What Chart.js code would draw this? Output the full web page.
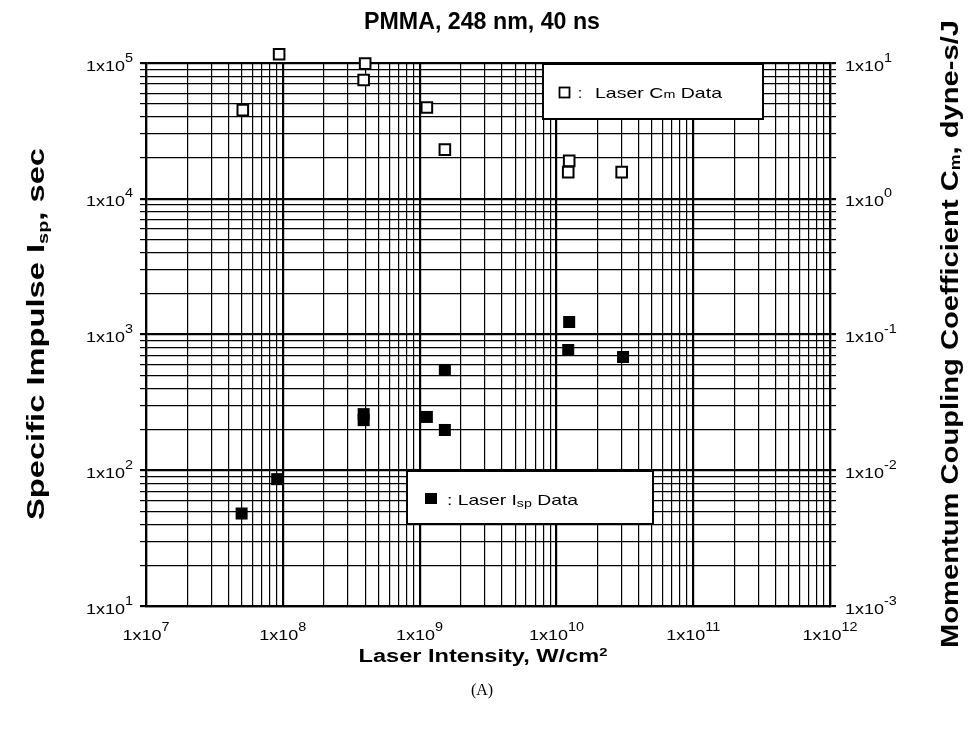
<!DOCTYPE html>
<html>
<head>
<meta charset="utf-8">
<title>PMMA, 248 nm, 40 ns</title>
<script src="https://cdn.jsdelivr.net/npm/chart.js@4.4.0/dist/chart.umd.min.js"></script>
<style>
  html, body { margin: 0; padding: 0; background: #fff; }
  #wrap { width: 972px; height: 734px; }
</style>
</head>
<body>
<div id="wrap"><canvas id="pmmaChart" width="972" height="734"></canvas></div>
<script>
// values (intensity in W/cm2)
const cmIntensity = [5.1e7, 9.4e7, 4.0e8, 3.9e8, 1.13e9, 1.53e9, 1.24e10, 1.22e10, 3.0e10];
const cmValues    = [4.5, 11.6, 9.9, 7.5, 4.7, 2.3, 1.9, 1.57, 1.57];

const ispIntensity = [5.0e7, 9.1e7, 3.9e8, 3.9e8, 1.13e9, 1.53e9, 1.53e9, 1.24e10, 1.22e10, 3.07e10];
const ispValues    = [48, 86, 259, 234, 247, 198, 548, 1236, 769, 683];

// decade ticks and their exponent labels
const xTicks = [1e7, 1e8, 1e9, 1e10, 1e11, 1e12];
const xTickExp = ['7', '8', '9', '10', '11', '12'];
const ispTicks = [1e1, 1e2, 1e3, 1e4, 1e5];
const ispTickExp = ['1', '2', '3', '4', '5'];
const cmTicks = [1e-3, 1e-2, 1e-1, 1e0, 1e1];
const cmTickExp = ['-3', '-2', '-1', '0', '1'];

const FONT = '"Liberation Sans", Arial, Helvetica, sans-serif';

// graph-paper grid: 1..9 in every decade
function decadeGrid(lo, hi) {
    const out = [];
    for (let e = lo; e < hi; e++) {
        for (let m = 1; m < 10; m++) out.push({ value: m * Math.pow(10, e) });
    }
    out.push({ value: Math.pow(10, hi) });
    return out;
}
function isDecade(v) {
    const l = Math.log10(v);
    return Math.abs(l - Math.round(l)) < 1e-6;
}
const gridWidth = (c) => (c.tick && isDecade(c.tick.value)) ? 2.2 : 1.2;

// text made of runs (for sub/superscripts), optionally stretched to a width
function richText(ctx, parts, x, y, opt) {
    ctx.save();
    let total = 0;
    const widths = parts.map(p => {
        ctx.font = (p.bold ? 'bold ' : '') + p.size + 'px ' + (p.family || FONT);
        const w = ctx.measureText(p.t).width;
        total += w;
        return w;
    });
    const sx = opt.width ? opt.width / total : (opt.sx || 1);
    ctx.translate(x, y);
    if (opt.rot) ctx.rotate(opt.rot);
    ctx.scale(sx, 1);
    let cx = opt.align === 'center' ? -total / 2 : (opt.align === 'right' ? -total : 0);
    ctx.textBaseline = 'alphabetic';
    ctx.textAlign = 'left';
    ctx.fillStyle = '#000';
    parts.forEach((p, i) => {
        ctx.font = (p.bold ? 'bold ' : '') + p.size + 'px ' + (p.family || FONT);
        ctx.fillText(p.t, cx, p.dy || 0);
        cx += widths[i];
    });
    ctx.restore();
}

function powLabel(exp) {
    return [{ t: '1x10', size: 15 }, { t: exp, size: 12, dy: -9 }];
}

const textPlugin = {
    id: 'paperText',
    afterDatasetsDraw(chart) {
        const ctx = chart.ctx;
        // legend boxes inside the plot
        ctx.save();
        ctx.fillStyle = '#fff';
        ctx.strokeStyle = '#000';
        ctx.lineWidth = 2;
        ctx.fillRect(543, 64, 220, 55);
        ctx.strokeRect(543, 64, 220, 55);
        ctx.fillRect(407, 471, 246, 53);
        ctx.strokeRect(407, 471, 246, 53);
        ctx.lineWidth = 1.8;
        ctx.strokeRect(559.5, 87.5, 10, 10);
        ctx.fillStyle = '#000';
        ctx.fillRect(425, 493, 12, 11);
        ctx.restore();
        richText(ctx, [{ t: ':', size: 15 }], 578, 98, {});
        richText(ctx, [{ t: 'Laser C', size: 15 }, { t: 'm', size: 11 }, { t: ' Data', size: 15 }],
            595, 98, { width: 127 });
        richText(ctx, [{ t: ': Laser I', size: 15 }, { t: 'sp', size: 11, dy: 2 }, { t: ' Data', size: 15 }],
            447, 505, { width: 131 });
    },
    afterDraw(chart) {
        const ctx = chart.ctx;
        const x = chart.scales.x, y = chart.scales.y, y2 = chart.scales.y2;

        richText(ctx, [{ t: 'PMMA, 248 nm, 40 ns', size: 24, bold: true }], 482, 29,
            { align: 'center', width: 236 });

        ispTicks.forEach((v, i) => {
            richText(ctx, powLabel(ispTickExp[i]), 133, y.getPixelForValue(v) + 7.5, { align: 'right', sx: 1.2 });
        });
        cmTicks.forEach((v, i) => {
            richText(ctx, powLabel(cmTickExp[i]), 845, y2.getPixelForValue(v) + 7.5, { sx: 1.2 });
        });
        xTicks.forEach((v, i) => {
            richText(ctx, powLabel(xTickExp[i]), x.getPixelForValue(v), 640, { align: 'center', sx: 1.2 });
        });

        richText(ctx, [{ t: 'Laser Intensity, W/cm', size: 17.5, bold: true }, { t: '2', size: 11, bold: true, dy: -6 }],
            483, 662, { align: 'center', width: 249 });
        richText(ctx, [{ t: '(A)', size: 16, family: '"Liberation Serif", "Times New Roman", serif' }],
            482, 695, { align: 'center' });

        richText(ctx, [{ t: 'Specific Impulse I', size: 23, bold: true }, { t: 'sp', size: 14, bold: true, dy: 4 },
            { t: ', sec', size: 23, bold: true }],
            44, 334, { align: 'center', rot: -Math.PI / 2, width: 372 });
        richText(ctx, [{ t: 'Momentum Coupling Coefficient C', size: 23, bold: true }, { t: 'm', size: 14, bold: true, dy: 2 },
            { t: ', dyne-s/J', size: 23, bold: true }],
            958, 334, { align: 'center', rot: -Math.PI / 2, width: 628 });
    }
};

const ctx = document.getElementById('pmmaChart').getContext('2d');
const data = {
    datasets: [
        {
            label: 'Laser Cm Data',
            data: cmIntensity.map((v, i) => ({ x: v, y: cmValues[i] })),
            yAxisID: 'y2',
            pointStyle: 'rect',
            pointRadius: 7.5,
            pointHoverRadius: 7.5,
            borderWidth: 2,
            borderColor: '#000',
            backgroundColor: '#fff',
            clip: false
        },
        {
            label: 'Laser Isp Data',
            data: ispIntensity.map((v, i) => ({ x: v, y: ispValues[i] })),
            yAxisID: 'y',
            pointStyle: 'rect',
            pointRadius: 8.5,
            pointHoverRadius: 8.5,
            borderWidth: 0,
            backgroundColor: '#000',
            clip: false
        }
    ]
};

const config = {
    type: 'scatter',
    data: data,
    options: {
        responsive: false,
        animation: false,
        layout: { padding: { left: 140, right: 136, top: 63, bottom: 128 }, autoPadding: false },
        plugins: {
            legend: { display: false },
            title: { display: false },
            tooltip: { enabled: false }
        },
        scales: {
            x: {
                type: 'logarithmic',
                min: 1e7,
                max: 1e12,
                afterBuildTicks: (s) => { s.ticks = decadeGrid(7, 12); },
                ticks: { display: false },
                grid: { color: '#000', lineWidth: gridWidth, drawTicks: false },
                border: { display: true, color: '#000', width: 2.2 }
            },
            y: {
                type: 'logarithmic',
                position: 'left',
                min: 1e1,
                max: 1e5,
                afterBuildTicks: (s) => { s.ticks = decadeGrid(1, 5); },
                ticks: { display: false },
                grid: { color: '#000', lineWidth: gridWidth, drawTicks: true, tickLength: 6 },
                border: { display: true, color: '#000', width: 2.2 }
            },
            y2: {
                type: 'logarithmic',
                position: 'right',
                min: 1e-3,
                max: 1e1,
                afterBuildTicks: (s) => { s.ticks = decadeGrid(-3, 1); },
                ticks: { display: false },
                grid: { color: '#000', lineWidth: gridWidth, drawTicks: true, tickLength: 6, drawOnChartArea: false },
                border: { display: true, color: '#000', width: 2.2 }
            }
        }
    },
    plugins: [textPlugin]
};

new Chart(ctx, config);
</script>
</body>
</html>
